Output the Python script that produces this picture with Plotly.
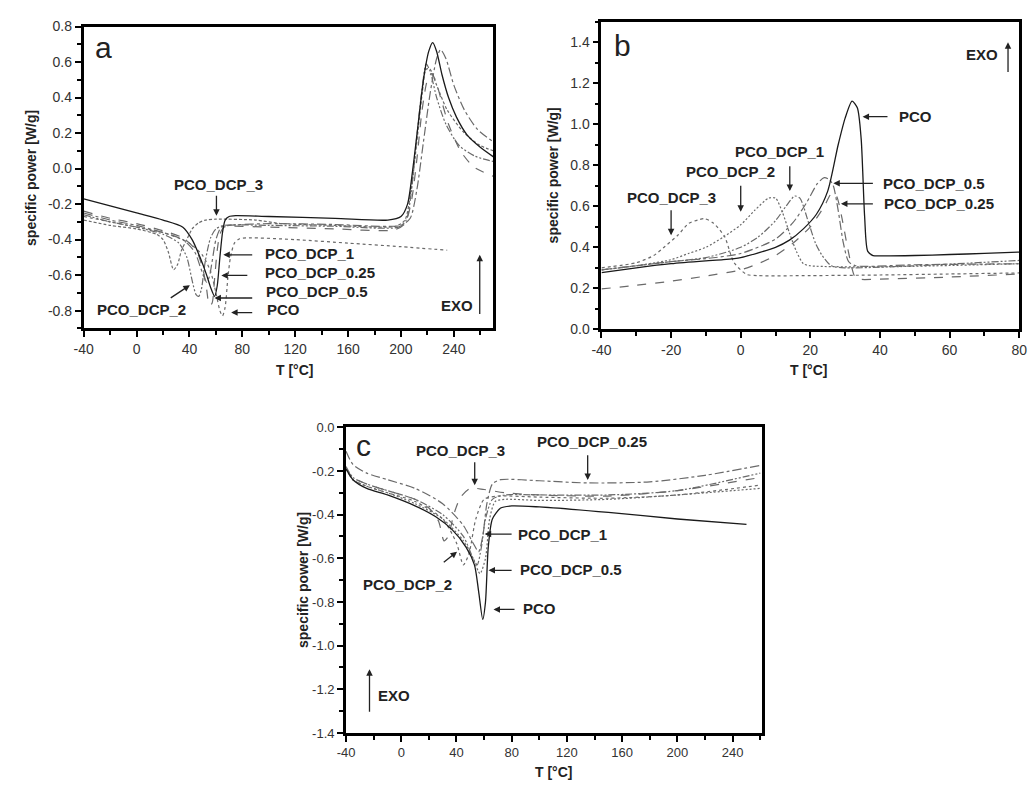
import plotly.graph_objects as go

FONT = "Liberation Sans, Arial, sans-serif"

# ---------------- tick values ----------------
a_xticks = [-40, 0, 40, 80, 120, 160, 200, 240]
a_yticks = [-0.8, -0.6, -0.4, -0.2, 0.0, 0.2, 0.4, 0.6, 0.8]
b_xticks = [-40, -20, 0, 20, 40, 60, 80]
b_yticks = [0.0, 0.2, 0.4, 0.6, 0.8, 1.0, 1.2, 1.4]
c_xticks = [-40, 0, 40, 80, 120, 160, 200, 240]
c_yticks = [-1.4, -1.2, -1.0, -0.8, -0.6, -0.4, -0.2, 0.0]

# ---------------- Panel a (heating, -40..270 °C) ----------------
a_T_PCO = [-40, -20, 0, 20, 40, 50, 56, 60, 63, 65, 67, 69, 71, 74, 78, 85, 120, 160, 200, 235]
a_PCO = [-0.27, -0.30, -0.33, -0.36, -0.42, -0.49, -0.58, -0.70, -0.80, -0.83, -0.78, -0.62, -0.50, -0.42, -0.395, -0.39, -0.40, -0.42, -0.44, -0.46]

a_T_05 = [-40, -20, 0, 20, 35, 42, 48, 53, 56, 59, 61, 63, 65, 67, 70, 75, 100, 150, 190, 200, 205, 209, 213, 217, 221, 224, 227, 231, 236, 242, 250, 260, 270]
a_05 = [-0.17, -0.21, -0.25, -0.29, -0.33, -0.40, -0.50, -0.60, -0.67, -0.72, -0.66, -0.50, -0.36, -0.29, -0.27, -0.265, -0.27, -0.28, -0.29, -0.27, -0.20, 0.0, 0.25, 0.50, 0.66, 0.71, 0.66, 0.53, 0.40, 0.29, 0.19, 0.12, 0.066]

a_T_025 = [-40, -20, 0, 20, 35, 45, 50, 53, 55, 57, 59, 61, 63, 66, 70, 100, 150, 195, 203, 208, 212, 216, 220, 223, 226, 230, 236, 245, 255, 270]
a_025 = [-0.24, -0.28, -0.31, -0.35, -0.39, -0.46, -0.56, -0.68, -0.77, -0.76, -0.62, -0.46, -0.37, -0.33, -0.325, -0.33, -0.34, -0.345, -0.31, -0.18, 0.05, 0.33, 0.50, 0.535, 0.50, 0.40, 0.25, 0.10, 0.01, -0.044]

a_T_1 = [-40, -20, 0, 20, 35, 44, 48, 51, 53, 55, 57, 60, 64, 70, 100, 150, 200, 207, 212, 217, 222, 227, 230, 234, 240, 248, 258, 270]
a_1 = [-0.25, -0.29, -0.32, -0.36, -0.40, -0.47, -0.55, -0.61, -0.64, -0.61, -0.53, -0.40, -0.33, -0.32, -0.31, -0.315, -0.32, -0.28, -0.12, 0.15, 0.42, 0.62, 0.67, 0.62, 0.47, 0.33, 0.22, 0.15]

a_T_2 = [-40, -20, 0, 20, 32, 38, 42, 45, 47, 49, 52, 56, 60, 66, 100, 150, 198, 204, 208, 212, 216, 219, 222, 227, 234, 244, 256, 270]
a_2 = [-0.26, -0.30, -0.33, -0.37, -0.42, -0.50, -0.63, -0.71, -0.72, -0.68, -0.52, -0.39, -0.34, -0.32, -0.32, -0.325, -0.33, -0.29, -0.12, 0.18, 0.45, 0.59, 0.55, 0.40, 0.25, 0.13, 0.07, 0.04]

a_T_3 = [-40, -20, 0, 15, 20, 24, 28, 31, 34, 38, 42, 47, 52, 60, 90, 110, 150, 196, 203, 208, 212, 216, 219, 222, 227, 235, 248, 260, 270]
a_3 = [-0.29, -0.32, -0.34, -0.37, -0.40, -0.47, -0.57, -0.54, -0.46, -0.40, -0.34, -0.305, -0.29, -0.285, -0.29, -0.31, -0.32, -0.325, -0.29, -0.10, 0.15, 0.42, 0.56, 0.56, 0.47, 0.33, 0.20, 0.13, 0.10]

# ---------------- Panel b (cooling, -40..80 °C) ----------------
b_T_PCO = [-40, -30, -20, -10, -5, 0, 5, 10, 14, 18, 21.7, 25, 28, 30, 32, 33.5, 34.6, 35.6, 36.5, 38, 40, 50, 60, 70, 80]
b_PCO = [0.277, 0.30, 0.32, 0.334, 0.34, 0.35, 0.373, 0.40, 0.435, 0.49, 0.56, 0.674, 0.90, 1.03, 1.113, 1.08, 0.93, 0.55, 0.38, 0.36, 0.358, 0.36, 0.365, 0.37, 0.377]

b_T_025 = [-40, -30, -20, -10, 0, 5, 10, 15, 20, 24, 26.2, 27.5, 29, 30.8, 32.7, 34, 40, 60, 80]
b_025 = [0.197, 0.215, 0.235, 0.26, 0.29, 0.32, 0.36, 0.42, 0.50, 0.60, 0.665, 0.65, 0.55, 0.39, 0.26, 0.245, 0.245, 0.255, 0.27]

b_T_05 = [-40, -20, -10, 0, 10, 15, 19, 22, 24, 25.5, 26.6, 28, 29.5, 31, 33, 50, 80]
b_05 = [0.29, 0.33, 0.345, 0.37, 0.44, 0.52, 0.62, 0.71, 0.74, 0.73, 0.70, 0.58, 0.42, 0.33, 0.31, 0.315, 0.32]

b_T_1 = [-40, -30, -20, -10, 0, 5, 10, 13, 15.5, 17, 19.5, 21.5, 23.4, 26, 30, 50, 80]
b_1 = [0.29, 0.31, 0.33, 0.35, 0.40, 0.45, 0.53, 0.60, 0.65, 0.64, 0.52, 0.42, 0.36, 0.31, 0.30, 0.31, 0.336]

b_T_2 = [-40, -30, -20, -15, -10, -5, 0, 4, 8, 10, 12, 14, 16, 18, 20, 40, 80]
b_2 = [0.29, 0.31, 0.34, 0.37, 0.40, 0.45, 0.51, 0.58, 0.64, 0.64, 0.57, 0.47, 0.38, 0.32, 0.31, 0.305, 0.32]

b_T_3 = [-40, -30, -25, -21.7, -18, -15, -12, -10.4, -8, -4.7, -1.9, 1.7, 5, 20, 40, 60, 80]
b_3 = [0.30, 0.325, 0.36, 0.405, 0.46, 0.516, 0.535, 0.54, 0.52, 0.454, 0.325, 0.268, 0.262, 0.262, 0.265, 0.27, 0.275]

# ---------------- Panel c (2nd heating, -40..260 °C) ----------------
c_T_PCO = [-40, -35, -25, -10, 10, 25, 37, 47, 53, 56, 59, 61, 63, 66, 72, 80, 100, 150, 200, 250]
c_PCO = [-0.19, -0.24, -0.28, -0.31, -0.36, -0.41, -0.47, -0.55, -0.63, -0.75, -0.88, -0.80, -0.55, -0.42, -0.37, -0.36, -0.365, -0.39, -0.42, -0.445]

c_T_025 = [-40, -35, -25, -10, 10, 30, 45, 52, 56, 59, 62, 66, 72, 100, 135, 180, 220, 260]
c_025 = [-0.11, -0.17, -0.21, -0.24, -0.28, -0.35, -0.45, -0.53, -0.57, -0.50, -0.35, -0.26, -0.24, -0.245, -0.255, -0.25, -0.22, -0.175]

c_T_3 = [-40, -35, -25, -10, 10, 20, 27, 31, 34, 38, 43, 50, 60, 75, 100, 150, 200, 260]
c_3 = [-0.19, -0.23, -0.26, -0.29, -0.33, -0.37, -0.43, -0.52, -0.50, -0.40, -0.32, -0.28, -0.285, -0.30, -0.31, -0.315, -0.29, -0.23]

c_T_2 = [-40, -35, -25, -10, 10, 30, 40, 45, 49, 54, 60, 70, 100, 150, 200, 260]
c_2 = [-0.19, -0.24, -0.27, -0.30, -0.34, -0.42, -0.53, -0.63, -0.58, -0.42, -0.33, -0.315, -0.32, -0.325, -0.31, -0.265]

c_T_1 = [-40, -35, -25, -10, 10, 30, 45, 52, 55, 58, 61, 66, 75, 100, 150, 200, 260]
c_1 = [-0.18, -0.23, -0.26, -0.29, -0.33, -0.40, -0.50, -0.60, -0.63, -0.55, -0.42, -0.33, -0.31, -0.31, -0.31, -0.29, -0.21]

c_T_05 = [-40, -35, -25, -10, 10, 30, 45, 52, 57, 61, 64, 68, 75, 100, 150, 200, 260]
c_05 = [-0.19, -0.24, -0.27, -0.30, -0.35, -0.42, -0.52, -0.60, -0.67, -0.60, -0.42, -0.34, -0.33, -0.335, -0.33, -0.31, -0.28]

# ---------------- styles ----------------
BLACK = "#1a1a1a"
GREY = "#6a6a6a"
DASHDOTDOT = "7px,2px,2px,2px,2px,2px"

fig = go.Figure()


def add(T, v, xa, ya, color, dash, width=1.2):
    fig.add_trace(go.Scatter(
        x=T, y=v, xaxis=xa, yaxis=ya, mode="lines",
        line=dict(color=color, dash=dash, width=width, shape="spline", smoothing=0.7),
        showlegend=False, hoverinfo="skip"))


# panel a
add(a_T_PCO, a_PCO, "x", "y", GREY, "dot")
add(a_T_3, a_3, "x", "y", GREY, "3px,2px")
add(a_T_2, a_2, "x", "y", GREY, DASHDOTDOT)
add(a_T_1, a_1, "x", "y", GREY, "dashdot")
add(a_T_025, a_025, "x", "y", GREY, "dash")
add(a_T_05, a_05, "x", "y", BLACK, "solid", 1.3)

# panel b
add(b_T_3, b_3, "x2", "y2", GREY, "dot")
add(b_T_2, b_2, "x2", "y2", GREY, "2px,2px")
add(b_T_1, b_1, "x2", "y2", GREY, DASHDOTDOT)
add(b_T_05, b_05, "x2", "y2", GREY, "dashdot")
add(b_T_025, b_025, "x2", "y2", GREY, "dash")
add(b_T_PCO, b_PCO, "x2", "y2", BLACK, "solid", 1.3)

# panel c
add(c_T_3, c_3, "x3", "y3", GREY, "dash")
add(c_T_2, c_2, "x3", "y3", GREY, "dot")
add(c_T_1, c_1, "x3", "y3", GREY, DASHDOTDOT)
add(c_T_05, c_05, "x3", "y3", GREY, "2px,2px")
add(c_T_025, c_025, "x3", "y3", GREY, "dashdot")
add(c_T_PCO, c_PCO, "x3", "y3", BLACK, "solid", 1.3)


def common(size):
    return dict(showline=True, linewidth=2.8, linecolor="black", mirror=True,
                ticks="outside", ticklen=6, tickwidth=2, tickcolor="black",
                showgrid=False, zeroline=False, ticklabeloverflow="allow",
                tickfont=dict(family=FONT, size=size, color="#333"))


def xax(domain, rng, ticks, minor, anchor, size=14):
    d = common(size)
    d.update(domain=domain, range=rng, anchor=anchor, tickmode="array",
             tickvals=ticks, ticktext=["%d" % t for t in ticks],
             minor=dict(ticks="outside", dtick=minor, tick0=-40, ticklen=4, tickwidth=1.5, tickcolor="black"))
    return d


def yax(domain, rng, ticks, anchor, size=14):
    d = common(size)
    d.update(domain=domain, range=rng, anchor=anchor, tickmode="array",
             tickvals=ticks, ticktext=["%.1f" % t for t in ticks],
             minor=dict(ticks="outside", dtick=0.1, tick0=0, ticklen=4, tickwidth=1.5, tickcolor="black"))
    return d


fig.update_layout(
    width=1035, height=787,
    margin=dict(l=0, r=0, t=0, b=0),
    paper_bgcolor="white", plot_bgcolor="white",
    xaxis=xax([0.0725, 0.4754], [-40, 270], a_xticks, 20, "y"),
    yaxis=yax([0.5845, 0.9759], [-0.9, 0.8], a_yticks, "x"),
    xaxis2=xax([0.5816, 0.9923], [-40, 80], b_xticks, 10, "y2"),
    yaxis2=yax([0.5832, 0.9822], [0, 1.5], b_yticks, "x2"),
    xaxis3=xax([0.3304, 0.7391], [-40, 261], c_xticks, 20, "y3", 13),
    yaxis3=yax([0.0597, 0.4562], [-1.4, 0], c_yticks, "x3", 13),
)


def label(xr, yr, x, y, text, xanchor="center", size=15, bold=True):
    fig.add_annotation(x=x, y=y, xref=xr, yref=yr, text=("<b>%s</b>" % text) if bold else text,
                       showarrow=False, xanchor=xanchor, yanchor="middle",
                       font=dict(family=FONT, size=size, color="#222"))


def arrow(xr, yr, x0, y0, x1, y1):
    fig.add_annotation(x=x1, y=y1, ax=x0, ay=y0, xref=xr, yref=yr, axref=xr, ayref=yr,
                       text="", showarrow=True, arrowhead=2, arrowsize=1.0, arrowwidth=1.3,
                       arrowcolor="#222")


# ---- panel a annotations
label("x", "y", -25, 0.68, "a", size=30, bold=False)
label("x", "y", 61.8, -0.089, "PCO_DCP_3")
arrow("x", "y", 60.4, -0.144, 60.4, -0.265)
label("x", "y", 96, -0.48, "PCO_DCP_1", "left")
arrow("x", "y", 88.6, -0.486, 65.6, -0.486)
label("x", "y", 96, -0.585, "PCO_DCP_0.25", "left")
arrow("x", "y", 84.9, -0.602, 64.1, -0.602)
label("x", "y", 96.5, -0.69, "PCO_DCP_0.5", "left")
arrow("x", "y", 88.6, -0.729, 58.9, -0.729)
label("x", "y", 97.5, -0.795, "PCO", "left")
arrow("x", "y", 88.6, -0.811, 71.5, -0.811)
label("x", "y", 3.9, -0.795, "PCO_DCP_2")
arrow("x", "y", 24.7, -0.734, 40.3, -0.657)
label("x", "y", 242.5, -0.773, "EXO")
arrow("x", "y", 259.6, -0.828, 259.6, -0.486)

# ---- panel b annotations
label("x2", "y2", -34, 1.386, "b", size=30, bold=False)
label("x2", "y2", -20, 0.645, "PCO_DCP_3")
arrow("x2", "y2", -20, 0.588, -20, 0.459)
label("x2", "y2", -2.9, 0.77, "PCO_DCP_2")
arrow("x2", "y2", 0, 0.707, 0, 0.573)
label("x2", "y2", 11.1, 0.865, "PCO_DCP_1")
arrow("x2", "y2", 14.1, 0.803, 14.1, 0.674)
label("x2", "y2", 44.9, 1.037, "PCO", "left")
arrow("x2", "y2", 42.6, 1.037, 35, 1.037)
label("x2", "y2", 40.4, 0.712, "PCO_DCP_0.5", "left")
arrow("x2", "y2", 38.4, 0.712, 26.6, 0.712)
label("x2", "y2", 40.7, 0.612, "PCO_DCP_0.25", "left")
arrow("x2", "y2", 38.4, 0.612, 28.8, 0.612)
label("x2", "y2", 69.4, 1.338, "EXO")
arrow("x2", "y2", 76.8, 1.247, 76.8, 1.40)

# ---- panel c annotations
label("x3", "y3", -27.2, -0.085, "c", size=30, bold=False)
label("x3", "y3", 42.6, -0.108, "PCO_DCP_3")
arrow("x3", "y3", 53.2, -0.153, 53.2, -0.265)
label("x3", "y3", 138, -0.067, "PCO_DCP_0.25")
arrow("x3", "y3", 135, -0.121, 135, -0.242)
label("x3", "y3", 83.1, -0.489, "PCO_DCP_1", "left")
arrow("x3", "y3", 81, -0.489, 60.4, -0.489)
label("x3", "y3", 84.5, -0.65, "PCO_DCP_0.5", "left")
arrow("x3", "y3", 81, -0.655, 63.2, -0.655)
label("x3", "y3", 86.7, -0.83, "PCO", "left")
arrow("x3", "y3", 83.1, -0.834, 66.8, -0.834)
label("x3", "y3", 4.8, -0.718, "PCO_DCP_2")
arrow("x3", "y3", 29.7, -0.624, 40.4, -0.57)
label("x3", "y3", -18, -1.229, "EXO", "left")
arrow("x3", "y3", -23, -1.31, -23, -1.108)


# ---- axis titles
def ptitle(x, y, text, angle=0):
    fig.add_annotation(x=x, y=y, xref="paper", yref="paper", text="<b>%s</b>" % text,
                       showarrow=False, textangle=angle, xanchor="center", yanchor="middle",
                       font=dict(family=FONT, size=14, color="#222"))


ptitle(0.020, 0.78, "specific power [W/g]", -90)
ptitle(0.280, 0.530, "T [°C]")
ptitle(0.534, 0.783, "specific power [W/g]", -90)
ptitle(0.785, 0.530, "T [°C]")
ptitle(0.288, 0.258, "specific power [W/g]", -90)
ptitle(0.534, 0.009, "T [°C]")

fig.write_html("out.html")
